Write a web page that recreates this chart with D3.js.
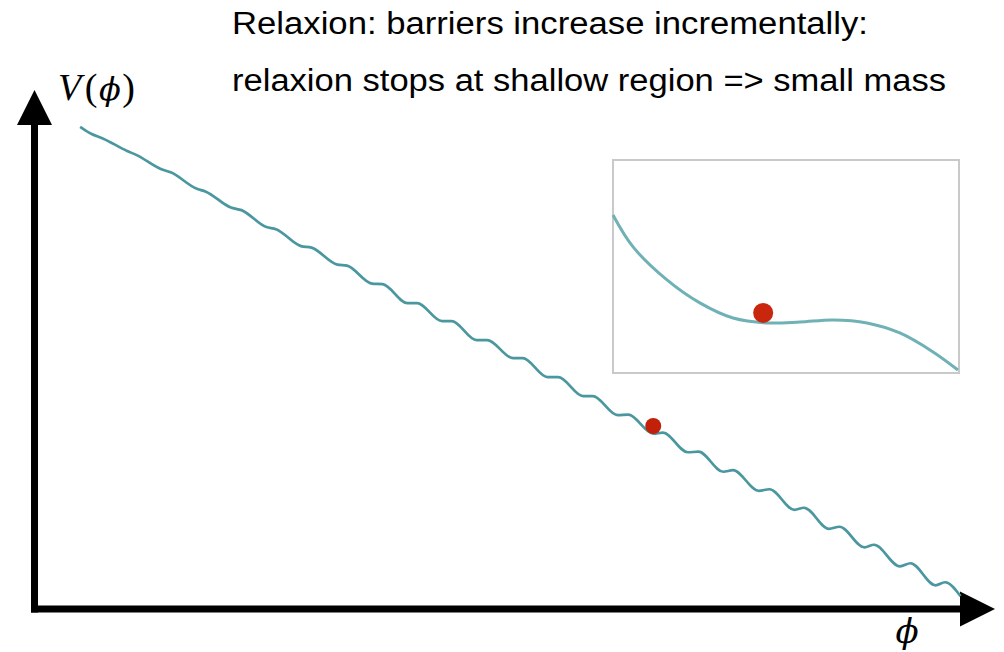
<!DOCTYPE html>
<html>
<head>
<meta charset="utf-8">
<script src="https://cdn.jsdelivr.net/npm/d3@7"></script>
<style>
  body { margin: 0; background: #fff; }
</style>
</head>
<body>
<div id="chart"></div>
<script>
const width = 1004;
const height = 652;

// Main potential: slope with barriers (valley / crest pairs)
const phiMain = [4.7, 5.9, 7.0, 9.6, 10.6, 13.1, 14.2, 16.8, 17.8, 20.4, 21.5, 24.1, 25.1,
    27.7, 28.8, 31.5, 32.5, 35.1, 36.2, 38.8, 39.8, 42.4, 43.4, 46.0, 47.1, 49.8, 50.8,
    53.4, 54.5, 57.1, 58.1, 60.7, 61.8, 64.4, 65.4, 68.0, 69.1, 71.7, 72.7, 75.4, 76.5,
    79.1, 80.1, 82.7, 83.8, 86.4, 87.4, 90.1, 91.2, 93.8, 94.8, 96.4];
const vMain = [93.8, 92.4, 91.6, 89.1, 88.3, 85.6, 84.9, 81.8, 81.2, 78.1, 77.6, 74.3, 73.9,
    70.6, 70.3, 67.0, 66.8, 63.3, 63.2, 59.5, 59.5, 56.0, 56.0, 52.3, 52.3, 48.8, 48.8,
    45.1, 45.1, 41.4, 41.4, 37.7, 37.8, 34.1, 34.3, 30.5, 30.6, 26.7, 27.0, 23.0, 23.3,
    19.3, 19.7, 15.6, 16.0, 12.0, 12.5, 8.3, 8.9, 4.6, 5.2, 2.5];

// Zoomed inset: shallow region around the stopping point
const phiInset = [0, 0.058, 0.156, 0.251, 0.347, 0.445, 0.540, 0.636, 0.734, 0.829, 0.925, 0.997];
const vInset = [0.742, 0.592, 0.437, 0.329, 0.258, 0.235, 0.239, 0.249, 0.235, 0.188, 0.099, 0.014];

// where the relaxion sits
const ballMain = [64.4, 35.6];
const ballInset = [0.434, 0.282];

const titleLines = ["Relaxion: barriers increase incrementally:",
    "relaxion stops at shallow region => small mass"];
const titleWidths = [636, 714];

const svg = d3.select("#chart").append("svg")
    .attr("width", width)
    .attr("height", height)
    .style("font-family", "'Liberation Sans', Arial, sans-serif");

svg.append("rect").attr("width", width).attr("height", height).attr("fill", "#fff");

const x = d3.scaleLinear().domain([0, 100]).range([35, 995]);
const y = d3.scaleLinear().domain([0, 100]).range([609, 95]);

const xi = d3.scaleLinear().domain([0, 1]).range([613, 959]);
const yi = d3.scaleLinear().domain([0, 1]).range([373, 160]);

// axes with arrow heads
const x0 = x(0) - 0.5, y0 = y(0);
svg.append("line")
    .attr("x1", x0).attr("y1", y0 + 3.5)
    .attr("x2", x0).attr("y2", y(100) + 30)
    .attr("stroke", "#000").attr("stroke-width", 7);
svg.append("path")
    .attr("d", `M${x0 - 17.5},${y(100) + 30}L${x0 + 17.5},${y(100) + 30}L${x0},${y(100) - 5}Z`)
    .attr("fill", "#000");
svg.append("line")
    .attr("x1", x0 - 3.5).attr("y1", y0)
    .attr("x2", x(100) - 35).attr("y2", y0)
    .attr("stroke", "#000").attr("stroke-width", 7);
svg.append("path")
    .attr("d", `M${x(100) - 35},${y0 - 17.5}L${x(100) - 35},${y0 + 17.5}L${x(100)},${y0}Z`)
    .attr("fill", "#000");

// axis labels
const vLab = svg.append("text")
    .attr("x", 58).attr("y", 100)
    .attr("textLength", 77)
    .style("font-family", "'Liberation Serif', 'DejaVu Serif', serif")
    .style("font-size", "38px");
vLab.append("tspan").style("font-style", "italic").text("V");
vLab.append("tspan").attr("dx", 2).text("(");
vLab.append("tspan").style("font-style", "italic").style("font-family", "'DejaVu Serif', serif")
    .style("font-size", "32px").text("\u03D5");
vLab.append("tspan").text(")");

svg.append("text")
    .attr("x", 907).attr("y", 643)
    .attr("text-anchor", "middle")
    .style("font-family", "'DejaVu Serif', serif")
    .style("font-style", "italic")
    .style("font-size", "34px")
    .text("\u03D5");

// title
svg.selectAll(".title")
    .data(titleLines)
    .enter().append("text")
    .attr("class", "title")
    .attr("x", 232)
    .attr("y", (d, i) => 34 + i * 57)
    .attr("textLength", (d, i) => titleWidths[i])
    .attr("lengthAdjust", "spacingAndGlyphs")
    .style("font-size", "31px")
    .attr("fill", "#000")
    .text(d => d);

// main curve
const line = d3.line()
    .x((d, i) => x(phiMain[i]))
    .y((d, i) => y(vMain[i]))
    .curve(d3.curveMonotoneX);

svg.append("path")
    .datum(phiMain)
    .attr("d", line)
    .attr("fill", "none")
    .attr("stroke", "#4a979f")
    .attr("stroke-width", 2.7);

svg.append("circle")
    .attr("cx", x(ballMain[0]))
    .attr("cy", y(ballMain[1]))
    .attr("r", 8)
    .attr("fill", "#c3200c");

// inset
const defs = svg.append("defs");
defs.append("filter").attr("id", "soft")
    .append("feGaussianBlur").attr("stdDeviation", 0.6);

svg.append("rect")
    .attr("x", xi(0)).attr("y", yi(1))
    .attr("width", xi(1) - xi(0))
    .attr("height", yi(0) - yi(1))
    .attr("fill", "#fff")
    .attr("stroke", "#c9c9c9")
    .attr("stroke-width", 2);

const insetLine = d3.line()
    .x((d, i) => xi(phiInset[i]))
    .y((d, i) => yi(vInset[i]))
    .curve(d3.curveCatmullRom.alpha(0.5));

svg.append("path")
    .datum(phiInset)
    .attr("d", insetLine)
    .attr("fill", "none")
    .attr("stroke", "#6fb1b6")
    .attr("stroke-width", 3)
    .attr("filter", "url(#soft)");

svg.append("circle")
    .attr("cx", xi(ballInset[0]))
    .attr("cy", yi(ballInset[1]))
    .attr("r", 10)
    .attr("fill", "#c8250e")
    .attr("filter", "url(#soft)");
</script>
</body>
</html>
